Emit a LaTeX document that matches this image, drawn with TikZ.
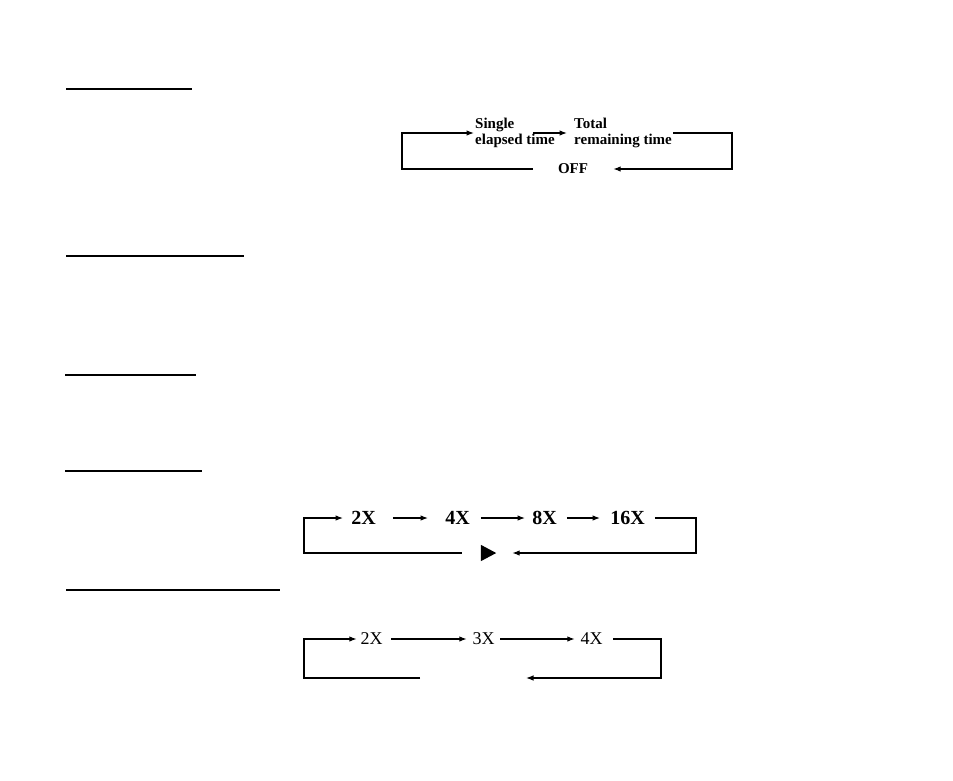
\documentclass[tikz,border=0pt]{standalone}
\usepackage{fontspec}
\setmainfont{Liberation Serif}
\usepackage{tikz}
\usetikzlibrary{arrows.meta}

\begin{document}
\begin{tikzpicture}[
  x=1pt, y=-1pt,
  loopline/.style={line width=1.2pt},
  arr/.style={loopline, -{Latex[length=7.5pt, width=5.5pt]}},
  rule/.style={line width=1.6pt},
  smalltxt/.style={font=\fontsize{15}{16}\selectfont\bfseries, align=left,
                   anchor=west, inner sep=1pt},
  bigx/.style={font=\fontsize{20}{22}\selectfont\bfseries, inner sep=0pt},
  plainx/.style={font=\fontsize{18}{20}\selectfont, inner sep=0pt}
]
  \useasboundingbox (0,0) rectangle (953,780);

  % heading rules
  \draw[rule] (66,89) -- (192,89);
  \draw[rule] (66,256) -- (244,256);
  \draw[rule] (65,375) -- (196,375);
  \draw[rule] (65,471) -- (202,471);
  \draw[rule] (66,590) -- (280,590);

  % time display cycle
  \node[smalltxt] (single) at (474,133) {Single\\elapsed time};
  \node[smalltxt] (total)  at (573,133) {Total\\remaining time};
  \node[font=\fontsize{15}{16}\selectfont\bfseries, inner sep=0pt,
        minimum width=80pt] (off) at (573,169) {OFF};
  \coordinate (c1l) at (402,150);
  \coordinate (c1r) at (732,150);

  \draw[arr] ([xshift=-23pt]single.east) -- ([xshift=-6pt]total.west);
  \draw[arr] (total.east) -| (c1r) |- (off.east);
  \draw[arr] (off.west) -| (c1l) |- (single.west);

  % fast forward cycle
  \node[bigx] (ffa) at (363.5,518) {2X};
  \node[bigx] (ffb) at (457.5,518) {4X};
  \node[bigx] (ffc) at (544.5,518) {8X};
  \node[bigx] (ffd) at (627.5,518) {16X};
  \node[inner sep=0pt, minimum width=15pt, minimum height=16pt] (play) at (488.5,553) {};
  \fill (play.north west) -- (play.east) -- (play.south west) -- cycle;
  \coordinate (c2l) at (304,535);
  \coordinate (c2r) at (696,535);

  \draw[arr, shorten <=17pt, shorten >=17pt] (ffa) -- (ffb);
  \draw[arr, shorten <=11pt, shorten >=7pt]  (ffb) -- (ffc);
  \draw[arr, shorten <=10pt, shorten >=10pt] (ffc) -- (ffd);
  \draw[arr, shorten <=10pt, shorten >=16pt] (ffd.east) -| (c2r) |- (play.east);
  \draw[arr, shorten <=19pt, shorten >=8pt]  (play.west) -| (c2l) |- (ffa.west);

  % slow motion cycle
  \node[plainx] (slwa) at (371.5,639) {2X};
  \node[plainx] (slwb) at (483.5,639) {3X};
  \node[plainx] (slwc) at (591.5,639) {4X};
  \coordinate (slwm) at (473,678);
  \coordinate (c3l) at (304,660);
  \coordinate (c3r) at (661,660);

  \draw[arr, shorten <=8.5pt, shorten >=5.5pt] (slwa) -- (slwb);
  \draw[arr, shorten <=5.5pt, shorten >=5.5pt] (slwb) -- (slwc);
  \draw[arr, shorten <=10.5pt, shorten >=53pt] (slwc.east) -| (c3r) |- (slwm);
  \draw[arr, shorten <=53pt, shorten >=3.5pt]  (slwm) -| (c3l) |- (slwa.west);
\end{tikzpicture}
\end{document}
